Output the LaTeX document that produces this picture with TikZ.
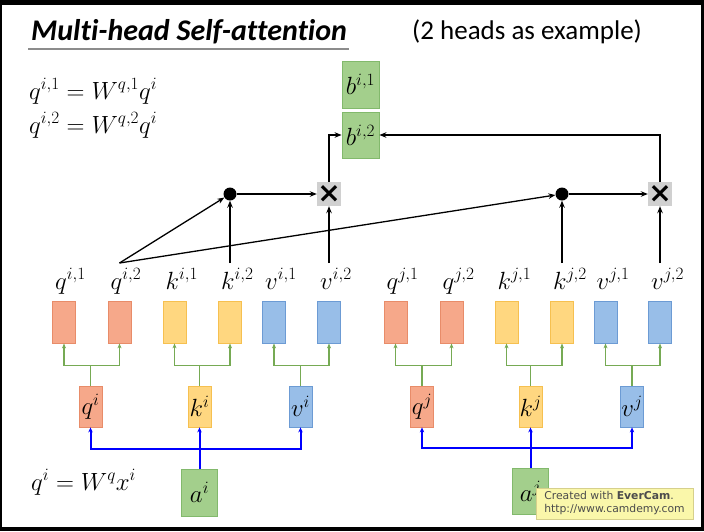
\documentclass[tikz,border=0pt]{standalone}
\usepackage{amsmath,amssymb}
\usepackage{fontspec}
\setmainfont{Carlito}[Ligatures=NoCommon]
\newfontfamily\wmfont{DejaVu Sans}
\usepackage{tikz}
\usetikzlibrary{arrows.meta}
\definecolor{q-fill}{RGB}{246,168,138}
\definecolor{q-line}{RGB}{232,140,105}
\definecolor{k-fill}{RGB}{255,215,128}
\definecolor{k-line}{RGB}{246,192,80}
\definecolor{v-fill}{RGB}{152,190,232}
\definecolor{v-line}{RGB}{108,155,212}
\definecolor{a-fill}{RGB}{163,207,140}
\definecolor{a-line}{RGB}{130,185,108}
\definecolor{treegreen}{RGB}{118,170,84}
\definecolor{mulgray}{RGB}{208,208,208}
\definecolor{wmfill}{RGB}{250,247,170}
\definecolor{wmline}{RGB}{214,208,140}

\begin{document}
\begin{tikzpicture}[x=1pt,y=-1pt,
  vec/.style={draw=#1-line,fill=#1-fill,line width=0.8pt,minimum width=23pt,minimum height=42pt,inner sep=0pt,font=\fontsize{25}{30}\selectfont},
  lab/.style={inner sep=0pt,anchor=base west,font=\fontsize{25}{30}\selectfont},
  eq/.style={inner sep=0pt,anchor=base west,font=\fontsize{27}{30}\selectfont},
  dotnode/.style={circle,fill=black,minimum size=13pt,inner sep=0pt},
  mulbox/.style={fill=mulgray,minimum size=24pt,inner sep=0pt,font=\wmfont\bfseries\fontsize{28}{28}\selectfont},
  arr/.style={line width=1.3pt,-{Stealth[length=7pt,width=5.5pt]}},
  tree/.style={draw=treegreen,line width=1.4pt,-{Stealth[length=5pt,width=4pt]}},
  blu/.style={draw=blue,line width=2pt,-{Stealth[length=5pt,width=4.5pt]}}]
  \useasboundingbox (0,0) rectangle (704,531);
  \fill[black] (0,0) rectangle (704,531);
  \fill[white] (2,5) rectangle (701,527);

  \node[inner sep=0pt,anchor=base west,font=\fontsize{30}{34}\selectfont\bfseries\itshape] (title) at (31,40) {Multi-head Self-attention};
  \draw[black!45,line width=2pt] ([xshift=-3pt,yshift=-9pt]title.base west) -- ([xshift=2pt,yshift=-9pt]title.base east);
  \node[inner sep=0pt,anchor=base west,font=\fontsize{27}{32}\selectfont] (note) at (412,39) {(2 heads as example)};

  \node[eq] (e1) at (29,99) {$q^{i,1} = W^{q,1}q^i$};
  \node[eq] (e2) at (29,133) {$q^{i,2} = W^{q,2}q^i$};
  \node[eq] (e3) at (31,490) {$q^i = W^q x^i$};

  \node[vec=a,minimum width=37pt,minimum height=47pt] (b1) at (360.5,84.5) {$b^{i,1}$};
  \node[vec=a,minimum width=37pt,minimum height=46pt] (b2) at (360.5,135) {$b^{i,2}$};

  \foreach \px/\ty/\who/\hd [count=\i] in {64/q/i/1,119.5/q/i/2,174.5/k/i/1,230/k/i/2,274/v/i/1,329/v/i/2,395.5/q/j/1,451.5/q/j/2,506.5/k/j/1,562/k/j/2,605.5/v/j/1,660/v/j/2}{
    \node[vec=\ty] (r\i) at (\px,322) {};
    \node[lab] (l\i) at (\px-9,289) {$\ty^{\who,\hd}$};
  }
  \foreach \i in {2,4,6,10,12} \coordinate (t\i) at (r\i |- 0,263);

  \foreach \px/\ty/\who in {90.5/q/i,199.5/k/i,300.5/v/i,422/q/j,530.5/k/j,632/v/j}
    \node[vec=\ty,minimum height=41pt] (\ty\who) at (\px,406.5) {$\ty^\who$};

  \node[vec=a,minimum width=36pt,minimum height=47pt] (ai) at (199.5,492.5) {$a^i$};
  \node[vec=a,minimum width=36pt,minimum height=46pt] (aj) at (530.5,491) {$a^j$};

  \node[dotnode] (d1) at (230,194) {};
  \node[mulbox] (m1) at (329,194) {×};
  \node[dotnode] (d2) at (562,194) {};
  \node[mulbox] (m2) at (660,194) {×};

  \draw[arr] (t2) -- (d1);
  \draw[arr] (t2) -- (d2);
  \draw[arr] (t4) -- (d1);
  \draw[arr] (t10) -- (d2);
  \draw[arr] (t6) -- (m1);
  \draw[arr] (t12) -- (m2);
  \draw[arr] (d1) -- (m1);
  \draw[arr] (d2) -- (m2);
  \draw[arr] (m1) |- (b2);
  \draw[arr] (m2) |- (b2);

  \foreach \ty/\who/\lft/\rgt in {q/i/1/2,k/i/3/4,v/i/5/6,q/j/7/8,k/j/9/10,v/j/11/12}{
    \draw[tree] (\ty\who.north) -- ++(0,-20) coordinate (c\ty\who) -| (r\lft.south);
    \draw[tree] (c\ty\who) -| (r\rgt.south);
  }

  \foreach \who in {i,j}{
    \draw[blu] (a\who) -- (k\who);
    \draw[blu] (a\who.north) -- ++(0,-20) -| (q\who.south);
    \draw[blu] (a\who.north) -- ++(0,-20) -| (v\who.south);
  }

  \node[draw=wmline,fill=wmfill,minimum width=157pt,minimum height=31pt,inner sep=1pt,align=left,text=black!70,font=\wmfont\fontsize{10.8}{13}\selectfont] (wm) at (614.5,503.5) {Created with \textbf{EverCam}.\\http://www.camdemy.com};
\end{tikzpicture}
\end{document}
